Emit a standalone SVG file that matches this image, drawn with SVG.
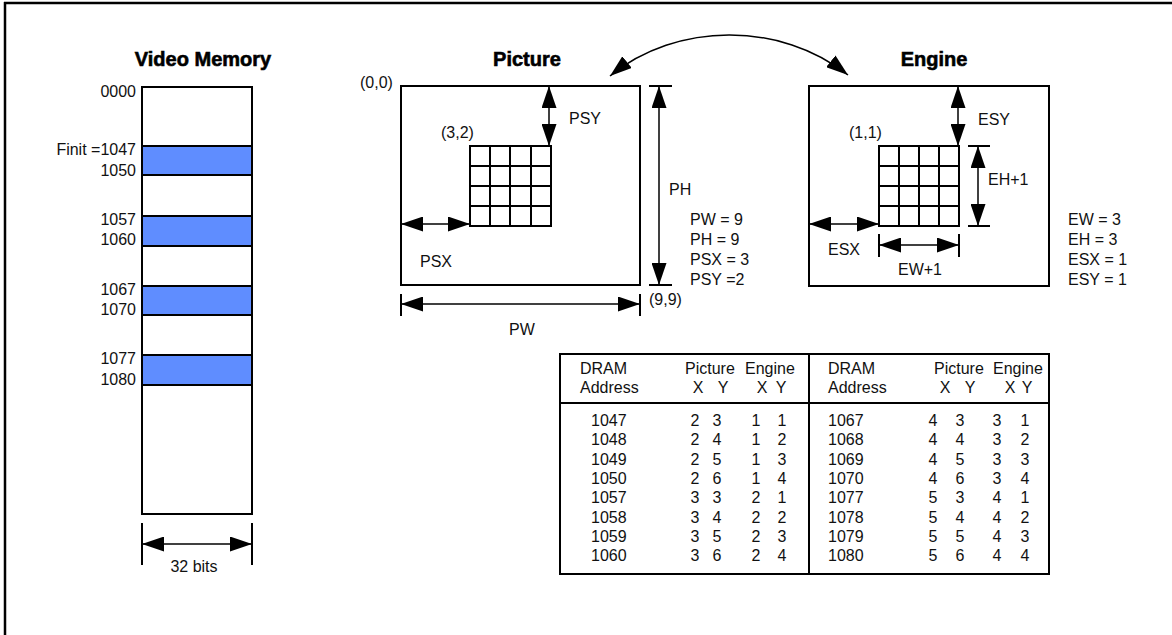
<svg xmlns="http://www.w3.org/2000/svg" width="1172" height="635" viewBox="0 0 1172 635">
<defs>
<marker id="ah" markerUnits="userSpaceOnUse" markerWidth="22" markerHeight="15" viewBox="0 0 22 15" refX="22" refY="7.5" orient="auto-start-reverse">
<path d="M0,0 L22,7.5 L0,15 z" fill="#000"/>
</marker>
<style>
.t{font-family:"Liberation Sans",Arial,sans-serif;font-size:16px;fill:#111}
.ttl{font-family:"Liberation Sans",Arial,sans-serif;font-size:20px;font-weight:bold;fill:#000;stroke:#000;stroke-width:0.6}
.m{text-anchor:middle}
.e{text-anchor:end}
.box{fill:#fff;stroke:#000;stroke-width:2}
.band{fill:#5f8dff;stroke:#000;stroke-width:2}
.grid{fill:none;stroke:#000;stroke-width:2}
.dim{fill:none;stroke:#000;stroke-width:1.5;marker-start:url(#ah);marker-end:url(#ah)}
.tick{fill:none;stroke:#000;stroke-width:2}
</style>
</defs>
<rect width="1172" height="635" fill="#fff"/>
<g id="frame">
<line x1="4" y1="3" x2="1172" y2="3" stroke="#000" stroke-width="2.5"/>
<line x1="5" y1="2" x2="5" y2="635" stroke="#000" stroke-width="2.5"/>
</g>

<g id="video-memory">
<text class="ttl m" x="203" y="66">Video Memory</text>
<rect class="box" x="142" y="87" width="110" height="427"/>
<rect class="band" x="142" y="146" width="110" height="29"/>
<rect class="band" x="142" y="216" width="110" height="30"/>
<rect class="band" x="142" y="286" width="110" height="29"/>
<rect class="band" x="142" y="355" width="110" height="30"/>
<text class="t e" x="136" y="97">0000</text>
<text class="t e" x="136" y="155">Finit =1047</text>
<text class="t e" x="136" y="176">1050</text>
<text class="t e" x="136" y="225">1057</text>
<text class="t e" x="136" y="245">1060</text>
<text class="t e" x="136" y="295">1067</text>
<text class="t e" x="136" y="315">1070</text>
<text class="t e" x="136" y="364">1077</text>
<text class="t e" x="136" y="385">1080</text>
<line class="tick" x1="142" y1="523" x2="142" y2="565"/>
<line class="tick" x1="252" y1="523" x2="252" y2="565"/>
<line class="dim" x1="142" y1="544" x2="252" y2="544"/>
<text class="t m" x="194" y="572">32 bits</text>
</g>

<g id="picture">
<text class="ttl m" x="527" y="66">Picture</text>
<rect class="box" x="401" y="86" width="239" height="199"/>
<path class="grid" d="M470,146 H551 V226 H470 Z M490,146 V226 M510,146 V226 M531,146 V226 M470,166 H551 M470,186 H551 M470,206 H551"/>
<text class="t" x="360" y="88">(0,0)</text>
<text class="t" x="441" y="138">(3,2)</text>
<line class="dim" x1="549" y1="86" x2="549" y2="146"/>
<text class="t" x="569" y="124">PSY</text>
<line class="dim" x1="401" y1="224" x2="470" y2="224"/>
<text class="t" x="420" y="267">PSX</text>
<line class="tick" x1="649" y1="86" x2="672" y2="86"/>
<line class="tick" x1="649" y1="285" x2="672" y2="285"/>
<line class="dim" x1="659" y1="86" x2="659" y2="285"/>
<text class="t" x="669" y="195">PH</text>
<text class="t" x="649" y="305">(9,9)</text>
<line class="tick" x1="401" y1="294" x2="401" y2="316"/>
<line class="tick" x1="640" y1="294" x2="640" y2="316"/>
<line class="dim" x1="401" y1="304" x2="640" y2="304"/>
<text class="t m" x="522" y="335">PW</text>
<text class="t" x="690" y="225">PW = 9</text>
<text class="t" x="690" y="245">PH = 9</text>
<text class="t" x="690" y="265">PSX = 3</text>
<text class="t" x="690" y="285">PSY =2</text>
</g>

<g id="engine">
<text class="ttl m" x="934" y="66">Engine</text>
<rect class="box" x="809" y="86" width="240" height="200"/>
<path class="grid" d="M879,146 H959 V226 H879 Z M899,146 V226 M919,146 V226 M939,146 V226 M879,166 H959 M879,186 H959 M879,206 H959"/>
<text class="t" x="849" y="138">(1,1)</text>
<line class="dim" x1="958" y1="86" x2="958" y2="146"/>
<text class="t" x="978" y="125">ESY</text>
<line class="tick" x1="968" y1="146" x2="990" y2="146"/>
<line class="tick" x1="968" y1="226" x2="990" y2="226"/>
<line class="dim" x1="978" y1="146" x2="978" y2="226"/>
<text class="t" x="988" y="185">EH+1</text>
<line class="dim" x1="809" y1="224" x2="879" y2="224"/>
<text class="t" x="828" y="255">ESX</text>
<line class="tick" x1="879" y1="234" x2="879" y2="257"/>
<line class="tick" x1="959" y1="234" x2="959" y2="257"/>
<line class="dim" x1="879" y1="245" x2="959" y2="245"/>
<text class="t m" x="920" y="275">EW+1</text>
<text class="t" x="1068" y="225">EW = 3</text>
<text class="t" x="1068" y="245">EH = 3</text>
<text class="t" x="1068" y="265">ESX = 1</text>
<text class="t" x="1068" y="285">ESY = 1</text>
</g>

<g id="connectors">
<path d="M610,76 C677,21.5 781,21.5 848,75" fill="none" stroke="#000" stroke-width="1.5" marker-start="url(#ah)" marker-end="url(#ah)"/>
</g>

<g id="table">
<rect x="560" y="354" width="489" height="220" fill="#fff" stroke="#000" stroke-width="2"/>
<line x1="560" y1="403" x2="1049" y2="403" stroke="#000" stroke-width="2"/>
<line x1="809" y1="354" x2="809" y2="574" stroke="#000" stroke-width="2"/>
<text class="t" x="580" y="374">DRAM</text>
<text class="t" x="580" y="393">Address</text>
<text class="t" x="685" y="374">Picture</text>
<text class="t" x="745" y="374">Engine</text>
<text class="t m" x="698" y="393">X</text>
<text class="t m" x="723" y="393">Y</text>
<text class="t m" x="762" y="393">X</text>
<text class="t m" x="781" y="393">Y</text>
<text class="t" x="828" y="374">DRAM</text>
<text class="t" x="828" y="393">Address</text>
<text class="t" x="934" y="374">Picture</text>
<text class="t" x="993" y="374">Engine</text>
<text class="t m" x="945" y="393">X</text>
<text class="t m" x="970" y="393">Y</text>
<text class="t m" x="1010" y="393">X</text>
<text class="t m" x="1027" y="393">Y</text>
<g class="t">
<text x="591" y="426">1047</text><text class="m" x="695" y="426">2</text><text class="m" x="717" y="426">3</text><text class="m" x="756" y="426">1</text><text class="m" x="782" y="426">1</text>
<text x="591" y="445.3">1048</text><text class="m" x="695" y="445.3">2</text><text class="m" x="717" y="445.3">4</text><text class="m" x="756" y="445.3">1</text><text class="m" x="782" y="445.3">2</text>
<text x="591" y="464.6">1049</text><text class="m" x="695" y="464.6">2</text><text class="m" x="717" y="464.6">5</text><text class="m" x="756" y="464.6">1</text><text class="m" x="782" y="464.6">3</text>
<text x="591" y="483.9">1050</text><text class="m" x="695" y="483.9">2</text><text class="m" x="717" y="483.9">6</text><text class="m" x="756" y="483.9">1</text><text class="m" x="782" y="483.9">4</text>
<text x="591" y="503.2">1057</text><text class="m" x="695" y="503.2">3</text><text class="m" x="717" y="503.2">3</text><text class="m" x="756" y="503.2">2</text><text class="m" x="782" y="503.2">1</text>
<text x="591" y="522.5">1058</text><text class="m" x="695" y="522.5">3</text><text class="m" x="717" y="522.5">4</text><text class="m" x="756" y="522.5">2</text><text class="m" x="782" y="522.5">2</text>
<text x="591" y="541.8">1059</text><text class="m" x="695" y="541.8">3</text><text class="m" x="717" y="541.8">5</text><text class="m" x="756" y="541.8">2</text><text class="m" x="782" y="541.8">3</text>
<text x="591" y="561.1">1060</text><text class="m" x="695" y="561.1">3</text><text class="m" x="717" y="561.1">6</text><text class="m" x="756" y="561.1">2</text><text class="m" x="782" y="561.1">4</text>
<text x="828" y="426">1067</text><text class="m" x="933" y="426">4</text><text class="m" x="960" y="426">3</text><text class="m" x="997" y="426">3</text><text class="m" x="1025" y="426">1</text>
<text x="828" y="445.3">1068</text><text class="m" x="933" y="445.3">4</text><text class="m" x="960" y="445.3">4</text><text class="m" x="997" y="445.3">3</text><text class="m" x="1025" y="445.3">2</text>
<text x="828" y="464.6">1069</text><text class="m" x="933" y="464.6">4</text><text class="m" x="960" y="464.6">5</text><text class="m" x="997" y="464.6">3</text><text class="m" x="1025" y="464.6">3</text>
<text x="828" y="483.9">1070</text><text class="m" x="933" y="483.9">4</text><text class="m" x="960" y="483.9">6</text><text class="m" x="997" y="483.9">3</text><text class="m" x="1025" y="483.9">4</text>
<text x="828" y="503.2">1077</text><text class="m" x="933" y="503.2">5</text><text class="m" x="960" y="503.2">3</text><text class="m" x="997" y="503.2">4</text><text class="m" x="1025" y="503.2">1</text>
<text x="828" y="522.5">1078</text><text class="m" x="933" y="522.5">5</text><text class="m" x="960" y="522.5">4</text><text class="m" x="997" y="522.5">4</text><text class="m" x="1025" y="522.5">2</text>
<text x="828" y="541.8">1079</text><text class="m" x="933" y="541.8">5</text><text class="m" x="960" y="541.8">5</text><text class="m" x="997" y="541.8">4</text><text class="m" x="1025" y="541.8">3</text>
<text x="828" y="561.1">1080</text><text class="m" x="933" y="561.1">5</text><text class="m" x="960" y="561.1">6</text><text class="m" x="997" y="561.1">4</text><text class="m" x="1025" y="561.1">4</text>
</g>
</g>
</svg>
